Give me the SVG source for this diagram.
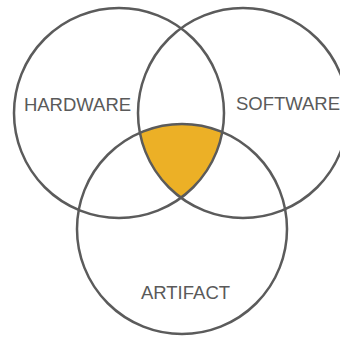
<svg xmlns="http://www.w3.org/2000/svg" width="340" height="340" viewBox="0 0 340 340">
<style>
.ring{fill:none;stroke:#5b5b5b;stroke-width:2.5}
.lbl{font-family:"Liberation Sans",Arial,sans-serif;font-size:18.5px;fill:#5a5a5a;text-anchor:middle}
.core{fill:#ecb026;stroke:none}
</style>
<rect width="340" height="340" fill="#ffffff"/>
<g id="intersection">
<path class="core" d="M139.8,132.8 A105,105 0 0 1 222.3,132 A105,105 0 0 1 181,197.7 A105,105 0 0 1 139.8,132.8 Z"/>
</g>
<g id="hardware">
<circle class="ring" cx="119" cy="113" r="105"/>
<text class="lbl" x="77.5" y="111">HARDWARE</text>
</g>
<g id="software">
<circle class="ring" cx="243" cy="113" r="105"/>
<text class="lbl" x="288" y="110">SOFTWARE</text>
</g>
<g id="artifact">
<circle class="ring" cx="182" cy="229" r="105"/>
<text class="lbl" x="185.5" y="299">ARTIFACT</text>
</g>
<g id="connectors"></g>
</svg>
